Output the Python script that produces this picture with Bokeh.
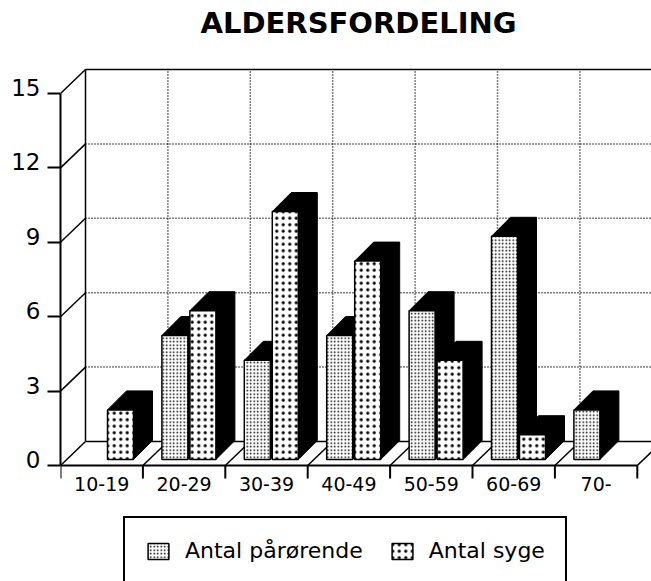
import numpy as np
from bokeh.plotting import figure
from bokeh.models import (FixedTicker, Legend, LegendItem, ColumnDataSource, Range1d,
                          LinearAxis, NumeralTickFormatter)
from bokeh.core.properties import value
from bokeh.embed import file_html
from bokeh.resources import INLINE

# ---- data ----
categories = ["10-19", "20-29", "30-39", "40-49", "50-59", "60-69", "70-"]
parorende = [0, 5, 4, 5, 6, 9, 2]
syge = [2, 6, 10, 8, 4, 1, 0]
y_ticks = [0, 3, 6, 9, 12, 15]
title_text = "ALDERSFORDELING"
series_names = ["Antal pårørende", "Antal syge"]

# ---- geometry (pixels -> data units) ----
PX_X = 82.4   # px per category
PX_Y = 24.8   # px per value unit
ZERO_PX = 465  # canvas row of the value 0 on the front plane
DX = 25 / PX_X
DY = 24 / PX_Y
BAR_OFF = 19 / PX_X
BAR_W = 26 / PX_X
BAR_GAP = 2 / PX_X
BAR_BASE = 6 / PX_Y
EX = 19 / PX_X
EY = 19 / PX_Y
TICK_LEN = 13 / PX_Y
LABEL_RAISE = 6 / PX_Y
N = len(categories)
YMAX = max(y_ticks)

W, H = 651, 581
LEFT = 60
FRAME_W = W - LEFT
y_lo = -(H - ZERO_PX) / PX_Y
y_hi = ZERO_PX / PX_Y

p = figure(width=W, height=H, output_backend="svg", toolbar_location=None,
           x_range=Range1d(0, FRAME_W / PX_X), y_range=Range1d(y_lo, y_hi),
           x_axis_location=None, min_border_left=LEFT, min_border_right=0,
           min_border_top=0, min_border_bottom=0)
p.outline_line_color = None
p.xgrid.visible = False
p.ygrid.visible = False
p.background_fill_color = "white"
p.border_fill_color = "white"

# y axis: line + tick marks
ax = p.yaxis[0]
ax.ticker = FixedTicker(ticks=y_ticks)
ax.bounds = (0, YMAX)
ax.axis_line_width = 2
ax.axis_line_color = "black"
ax.major_tick_out = 13
ax.major_tick_in = 0
ax.major_tick_line_width = 2
ax.minor_tick_line_color = None
ax.major_label_overrides = {t: "" for t in y_ticks}
ax.major_label_standoff = 0
ax.major_label_text_font_size = "1px"

# y axis labels (raised slightly above their ticks, as in the original)
lab_ax = LinearAxis(ticker=FixedTicker(ticks=[t + LABEL_RAISE for t in y_ticks]),
                    formatter=NumeralTickFormatter(format="0"))
lab_ax.axis_line_color = None
lab_ax.major_tick_line_color = None
lab_ax.minor_tick_line_color = None
lab_ax.major_tick_out = 0
lab_ax.major_tick_in = 0
lab_ax.major_label_standoff = 7
lab_ax.major_label_text_font = "DejaVu Sans"
lab_ax.major_label_text_font_size = "23px"
lab_ax.major_label_text_color = "black"
p.add_layout(lab_ax, "left")

# title
p.text(x=[(200 - LEFT) / PX_X], y=[(ZERO_PX - 22) / PX_Y], text=[title_text],
       text_font=value("DejaVu Sans"), text_font_size="29px", text_font_style="bold",
       text_align="left", text_baseline="alphabetic", text_color="black")

xr_end = N + 2

# left side wall diagonals
p.segment(x0=[0] * len(y_ticks), y0=y_ticks, x1=[DX] * len(y_ticks),
          y1=[t + DY for t in y_ticks], line_color="black", line_width=1.5)
# back wall edges
p.segment(x0=[DX, DX, DX], y0=[DY, YMAX + DY, DY], x1=[DX, xr_end, xr_end],
          y1=[YMAX + DY, YMAX + DY, DY], line_color="black", line_width=1.5)
# back wall dotted gridlines
inner = [t for t in y_ticks if 0 < t < YMAX]
p.segment(x0=[DX] * len(inner), y0=[t + DY for t in inner], x1=[xr_end] * len(inner),
          y1=[t + DY for t in inner], line_color="black", line_width=1.5, line_dash="1 2")
ks = list(range(1, N + 1))
p.segment(x0=[k + DX for k in ks], y0=[DY] * len(ks), x1=[k + DX for k in ks],
          y1=[YMAX + DY] * len(ks), line_color="black", line_width=1.5, line_dash="1 2")
# floor dividers
p.segment(x0=ks, y0=[0] * len(ks), x1=[k + DX for k in ks], y1=[DY] * len(ks),
          line_color="black", line_width=1.5)
# front floor edge (x axis line)
p.segment(x0=[0], y0=[0], x1=[N], y1=[0], line_color="black", line_width=2)
# tick marks below the floor
kall = list(range(0, N + 1))
p.segment(x0=kall, y0=[0] * len(kall), x1=kall, y1=[-TICK_LEN] * len(kall),
          line_color="black", line_width=2)
# category labels
p.text(x=[i + 0.5 for i in range(N)], y=[-18 / PX_Y] * N, text=categories,
       text_font=value("DejaVu Sans"), text_font_size="19px", text_align="center",
       text_baseline="alphabetic", text_color="black")

# bars
series = [parorende, syge]
ext_xs, ext_ys = [], []
fronts = []
for j, vals in enumerate(series):
    L, R, B, T = [], [], [], []
    for i, v in enumerate(vals):
        if v <= 0:
            continue
        x0 = i + BAR_OFF + j * (BAR_W + BAR_GAP)
        x1 = x0 + BAR_W
        y0 = BAR_BASE
        y1 = y0 + v
        ext_xs.append([x0, x0 + EX, x1 + EX, x1 + EX, x1, x1])
        ext_ys.append([y1, y1 + EY, y1 + EY, y0 + EY, y0, y1])
        L.append(x0); R.append(x1); B.append(y0); T.append(y1)
    fronts.append(dict(left=L, right=R, bottom=B, top=T))

p.patches(xs=ext_xs, ys=ext_ys, fill_color="black", line_color="black", line_width=1)

styles = [dict(hatch_pattern="dot", hatch_scale=3.5, hatch_weight=1.2),
          dict(hatch_pattern="dot", hatch_scale=6.5, hatch_weight=1.8)]
renderers = []
for j in range(2):
    r = p.quad(source=ColumnDataSource(fronts[j]), left="left", right="right",
               bottom="bottom", top="top", fill_color="white", hatch_color="black",
               line_color="black", line_width=1.5, **styles[j])
    renderers.append(r)

legend = Legend(items=[LegendItem(label=series_names[j], renderers=[renderers[j]]) for j in range(2)],
                orientation="horizontal", location=(63, -4))
legend.label_text_font = "DejaVu Sans"
legend.label_text_font_size = "22px"
legend.label_text_color = "black"
legend.glyph_width = 26
legend.glyph_height = 20
legend.label_standoff = 14
legend.spacing = 26
legend.padding = 20
legend.margin = 0
legend.border_line_color = "black"
legend.border_line_width = 2
legend.border_line_alpha = 1
legend.background_fill_color = "white"
legend.background_fill_alpha = 1
p.add_layout(legend, "center")

open("out.html", "w").write(file_html(p, INLINE))
